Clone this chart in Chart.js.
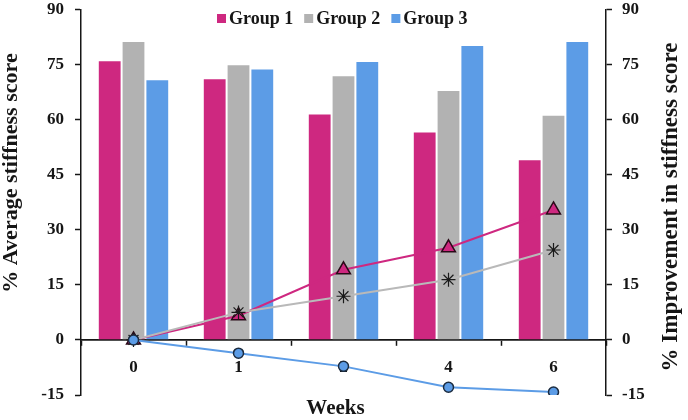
<!DOCTYPE html>
<html>
<head>
<meta charset="utf-8">
<script src="https://cdn.jsdelivr.net/npm/chart.js@4.4.1/dist/chart.umd.min.js"></script>
<style>
  html, body { margin: 0; padding: 0; background: #fff; }
  #wrap { width: 688px; height: 420px; }
</style>
</head>
<body>
<div id="wrap"><canvas id="stiffnessChart" width="688" height="420"></canvas></div>
<script>
// weeks on the x axis
const weeks = ['0', '1', '2', '4', '6'];

// % average stiffness score (bars, left axis)
const group1Score = [76.2, 71.3, 61.7, 56.8, 49.2];
const group2Score = [81.4, 75.1, 72.1, 68.1, 61.3];
const group3Score = [71.0, 73.9, 76.0, 80.3, 81.4];

// % improvement in stiffness score (lines, right axis)
const group1Improve = [0, 6.6, 19.1, 25.1, 35.4];
const group2Improve = [0, 7.5, 11.9, 16.4, 24.5];
const group3Improve = [0, -3.6, -7.2, -12.9, -14.2];

const groupNames = ['Group 1', 'Group 2', 'Group 3'];
const axisMin = -15, axisMax = 90, axisStep = 15;

const pink = 'rgb(206, 40, 128)';
const gray = 'rgb(178, 178, 178)';
const blue = 'rgb(92, 156, 230)';
const ink = '#161616';
const serif = '"Liberation Serif", "Times New Roman", serif';

const tickFont = { family: serif, size: 17, weight: 'bold' };

// legend + axis titles drawn by hand (legend sits inside the plot, right title reads upward)
const overlay = {
  id: 'overlay',
  afterDraw(chart) {
    const ctx = chart.ctx;
    const area = chart.chartArea;
    ctx.save();
    ctx.fillStyle = ink;
    ctx.textBaseline = 'middle';

    ctx.font = 'bold 18px ' + serif;
    ctx.textAlign = 'left';
    let x = 217;
    const colors = [pink, gray, blue];
    groupNames.forEach((name, i) => {
      ctx.fillStyle = colors[i];
      ctx.fillRect(x, 14, 9, 9);
      ctx.fillStyle = ink;
      ctx.fillText(name, x + 12, 19);
      x += 12 + ctx.measureText(name).width + 11;
    });

    ctx.textAlign = 'center';
    ctx.font = 'bold 22px ' + serif;
    ctx.save();
    ctx.translate(11, 173);
    ctx.rotate(-Math.PI / 2);
    ctx.fillText('% Average stiffness score', 0, 0);
    ctx.restore();

    ctx.font = 'bold 23px ' + serif;
    ctx.save();
    ctx.translate(671, 207);
    ctx.rotate(-Math.PI / 2);
    ctx.fillText('% Improvement in stiffness score', 0, 0);
    ctx.restore();

    ctx.font = 'bold 21px ' + serif;
    ctx.fillText('Weeks', (area.left + area.right) / 2 - 8, 409);
    ctx.restore();
  }
};

const barSet = (label, data, color) => ({
  type: 'bar',
  label: label,
  data: data,
  backgroundColor: color,
  borderColor: 'rgba(255,255,255,0.35)',
  borderWidth: 1,
  yAxisID: 'y',
  order: 10,
  categoryPercentage: 0.68,
  barPercentage: 1.0
});

new Chart(document.getElementById('stiffnessChart'), {
  data: {
    labels: weeks,
    datasets: [
      barSet(groupNames[0], group1Score, pink),
      barSet(groupNames[1], group2Score, gray),
      barSet(groupNames[2], group3Score, blue),
      {
        type: 'line',
        label: 'Group 1 improvement',
        data: group1Improve,
        yAxisID: 'y1',
        borderColor: pink,
        borderWidth: 2,
        pointStyle: 'triangle',
        pointRadius: 8,
        pointBackgroundColor: pink,
        pointBorderColor: '#2a0a18',
        pointBorderWidth: 1.5,
        tension: 0,
        order: 3
      },
      {
        type: 'line',
        label: 'Group 2 improvement',
        data: group2Improve,
        yAxisID: 'y1',
        borderColor: 'rgb(185, 185, 185)',
        borderWidth: 2,
        pointStyle: 'star',
        pointRadius: 7,
        pointBorderColor: '#1a1a1a',
        pointBorderWidth: 1.2,
        tension: 0,
        order: 2
      },
      {
        type: 'line',
        label: 'Group 3 improvement',
        data: group3Improve,
        yAxisID: 'y1',
        borderColor: blue,
        borderWidth: 2,
        pointStyle: 'circle',
        pointRadius: 5,
        pointBackgroundColor: blue,
        pointBorderColor: '#1c2c40',
        pointBorderWidth: 1.5,
        tension: 0,
        order: 1
      }
    ]
  },
  options: {
    responsive: false,
    animation: false,
    devicePixelRatio: 1,
    layout: { padding: { top: 7, left: 0, right: 0, bottom: 25 } },
    plugins: {
      legend: { display: false },
      tooltip: { enabled: false }
    },
    scales: {
      x: {
        type: 'category',
        position: { y: 0 },
        offset: true,
        grid: { offset: true, drawOnChartArea: false, tickLength: 5, tickColor: ink, tickWidth: 1.5 },
        border: { display: true, color: ink, width: 1.8 },
        ticks: { color: ink, font: tickFont, padding: 12, maxRotation: 0 },
        afterFit(scale) { scale.height = 25; scale.paddingLeft = 0; scale.paddingRight = 0; }
      },
      y: {
        position: 'left',
        min: axisMin,
        max: axisMax,
        ticks: { stepSize: axisStep, color: ink, font: tickFont, padding: 11 },
        grid: { drawOnChartArea: false, tickLength: 6, tickColor: ink, tickWidth: 1.5 },
        border: { display: true, color: ink, width: 1.5 },
        afterFit(scale) { scale.width = 81; scale.paddingTop = 0; scale.paddingBottom = 0; }
      },
      y1: {
        position: 'right',
        min: axisMin,
        max: axisMax,
        ticks: { stepSize: axisStep, color: ink, font: tickFont, padding: 10 },
        grid: { drawOnChartArea: false, tickLength: 6, tickColor: ink, tickWidth: 1.5 },
        border: { display: true, color: ink, width: 1.5 },
        afterFit(scale) { scale.width = 82; scale.paddingTop = 0; scale.paddingBottom = 0; }
      }
    }
  },
  plugins: [overlay]
});
</script>
</body>
</html>
